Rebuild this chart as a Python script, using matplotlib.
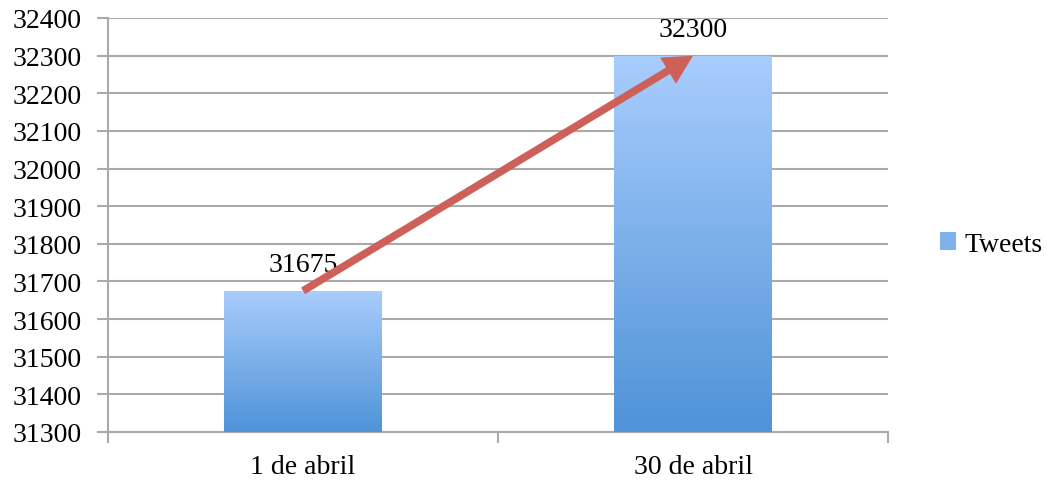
import matplotlib.pyplot as plt
import numpy as np
from matplotlib.colors import LinearSegmentedColormap
from matplotlib.patches import Patch

categories = ["1 de abril", "30 de abril"]
tweets = [31675, 32300]
yticks = list(range(31300, 32401, 100))

plt.rcParams['font.family'] = ['Liberation Serif', 'DejaVu Serif']
FS = 20

fig = plt.figure(figsize=(10.47, 4.81), dpi=100)
ax = fig.add_axes([0.1032, 0.0998, 0.745, 0.8607])

x = np.arange(len(categories))
bars = ax.bar(x, tweets, width=0.405, color='none', edgecolor='none', zorder=3)

# vertical gradient fill, dark blue at the bottom, light blue at the top
grad = LinearSegmentedColormap.from_list('blues', ['#4f93d8', '#a9cdfd'])
for b in bars:
    x0, w, h = b.get_x(), b.get_width(), b.get_height()
    im = ax.imshow(np.linspace(0, 1, 256).reshape(-1, 1), cmap=grad, origin='lower',
                   aspect='auto', extent=[x0, x0 + w, 31300, h], zorder=3)
    im.set_clip_path(b)

for xi, v in zip(x, tweets):
    ax.text(xi, v + 52, str(v), ha='center', va='baseline', fontsize=FS, zorder=5)

ax.annotate('', xy=(x[1], tweets[1]), xytext=(x[0], tweets[0]),
            arrowprops=dict(arrowstyle='simple,head_length=21,head_width=22,tail_width=5.5',
                            mutation_scale=1, fc='#cd6159', ec='none',
                            shrinkA=0, shrinkB=0),
            zorder=6)

ax.set_xlim(-0.5, 1.5)
ax.set_ylim(31300, 32400)
ax.set_yticks(yticks)
ax.set_yticklabels([str(t) for t in yticks], fontsize=FS)
ax.set_xticks(x)
ax.set_xticklabels(categories, fontsize=FS)
ax.tick_params(axis='x', length=0, pad=16)
ax.tick_params(axis='y', length=8, width=1.5, color='#aaaaaa', pad=11)

# minor ticks between categories on the category axis
ax.set_xticks([-0.5, 0.5, 1.5], minor=True)
ax.tick_params(axis='x', which='minor', length=8, width=1.5, color='#aaaaaa')

ax.grid(axis='y', color='#aaaaaa', lw=1.5, zorder=0)
ax.set_axisbelow(True)
for s in ['top', 'right']:
    ax.spines[s].set_visible(False)
for s in ['left', 'bottom']:
    ax.spines[s].set_color('#aaaaaa')
    ax.spines[s].set_linewidth(1.5)

ax.legend(handles=[Patch(facecolor='#7fb2ea', label='Tweets')], loc='center left',
          bbox_to_anchor=(1.066, 0.454), frameon=False, fontsize=FS,
          handlelength=0.6, handleheight=0.6, handletextpad=0.3,
          borderaxespad=0, borderpad=0)

fig.savefig('out.png', dpi=100)
